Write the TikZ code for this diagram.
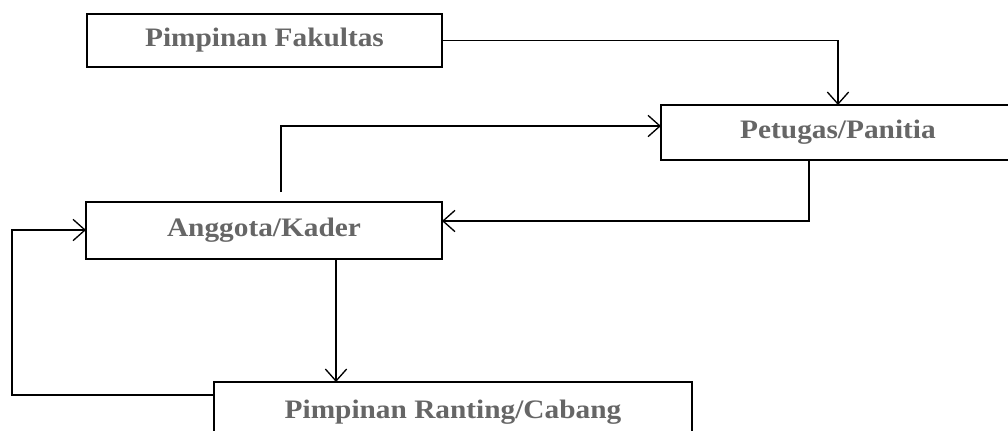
\documentclass[tikz,border=0pt]{standalone}
\usepackage{fontspec}
\setmainfont{Liberation Serif}
\newfontfamily\boxfont[FakeStretch=1.1]{Liberation Serif}
\usetikzlibrary{arrows.meta}
\definecolor{txtgray}{HTML}{666666}
\begin{document}
\begin{tikzpicture}[x=0.75pt,y=-0.75pt,
  box/.style={draw=black, line width=2pt, rectangle, inner sep=0pt, outer sep=0pt,
    font=\boxfont\fontsize{20}{22}\selectfont\bfseries, text=txtgray},
  arr/.style={draw=black, line width=1pt, -{Straight Barb[length=9pt,width=16pt]}}]
\useasboundingbox (0,0) rectangle (1008,430);
\clip (0,0) rectangle (1008,430);
\node[box, minimum width=266.25pt, minimum height=39.75pt] (fak) at (264.5,40.5) {Pimpinan Fakultas};
\node[box, minimum width=265.5pt, minimum height=41.25pt] (pet) at (838,132.5) {Petugas/Panitia};
\node[box, minimum width=267pt, minimum height=42.75pt] (ang) at (264,230.5) {Anggota/Kader};
\node[box, minimum width=358.5pt, minimum height=45pt] (ran) at (453,412) {Pimpinan Ranting/Cabang};
% helper coordinates
\coordinate (cA) at (281,192);
\coordinate (cB) at (809,126);
\coordinate (yA) at (0,126);
\coordinate (yB) at (0,221);
\coordinate (xC) at (336,0);
\coordinate (yD) at (0,395);
\coordinate (cE) at (12,230);
% connectors
\draw[arr] (fak.east) -| (pet.north);
\draw[arr] (cA) |- (pet.west |- yA);
\draw[arr] (pet.south -| cB) |- (ang.east |- yB);
\draw[arr] (ang.south -| xC) -- (ran.north -| xC);
\draw[arr] (ran.west |- yD) -| (cE) -- (ang.west |- cE);
\end{tikzpicture}
\end{document}
